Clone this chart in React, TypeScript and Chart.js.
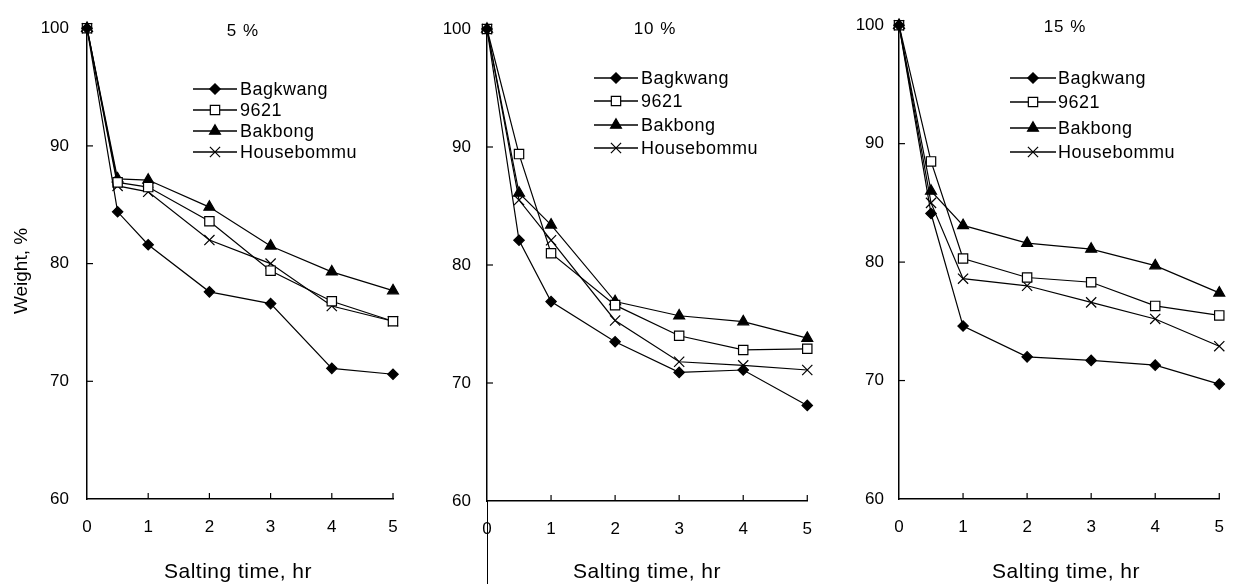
import React, { useEffect, useRef } from 'react';
import { Chart, registerables } from 'chart.js';
import { drawPoint } from 'chart.js/helpers';

Chart.register(...registerables);

// ---------- data ----------
const hours = [0, 0.5, 1, 2, 3, 4, 5];
const seriesNames = ['Bagkwang', '9621', 'Bakbong', 'Housebommu'];
const panelTitles = ['5 %', '10 %', '15 %'];
const yTickValues = [60, 70, 80, 90, 100];
const xTickValues = [0, 1, 2, 3, 4, 5];
const xAxisTitle = 'Salting time, hr';
const yAxisTitle = 'Weight, %';

const bagkwang5 = [100, 84.4, 81.6, 77.6, 76.6, 71.1, 70.6];
const s9621_5 = [100, 86.9, 86.5, 83.6, 79.4, 76.8, 75.1];
const bakbong5 = [100, 87.2, 87.1, 84.8, 81.5, 79.3, 77.7];
const housebommu5 = [100, 86.6, 86.1, 82.0, 80.0, 76.4, 75.1];

const bagkwang10 = [100, 82.1, 76.9, 73.5, 70.9, 71.1, 68.1];
const s9621_10 = [100, 89.4, 81.0, 76.6, 74.0, 72.8, 72.9];
const bakbong10 = [100, 86.1, 83.4, 76.9, 75.7, 75.2, 73.8];
const housebommu10 = [100, 85.5, 82.1, 75.3, 71.8, 71.5, 71.1];

const bagkwang15 = [100, 84.1, 74.6, 72.0, 71.7, 71.3, 69.7];
const s9621_15 = [100, 88.5, 80.3, 78.7, 78.3, 76.3, 75.5];
const bakbong15 = [100, 86.0, 83.1, 81.6, 81.1, 79.7, 77.4];
const housebommu15 = [100, 85.0, 78.6, 78.0, 76.6, 75.2, 72.9];

const panelSeries = [
  [bagkwang5, s9621_5, bakbong5, housebommu5],
  [bagkwang10, s9621_10, bakbong10, housebommu10],
  [bagkwang15, s9621_15, bakbong15, housebommu15],
];

// ---------- styles ----------
const FONT = '"Liberation Sans", Arial, sans-serif';
const H = 584;

const markerStyles = [
  { pointStyle: 'rectRot', radius: 5.2, fill: '#000' },
  { pointStyle: 'rect', radius: 6.6, fill: '#fff' },
  { pointStyle: 'triangle', radius: 6.3, fill: '#000' },
  { pointStyle: 'crossRot', radius: 7.2, fill: '#000' },
];

const panels = [
  {
    left: 0, width: 420, axisLeft: 87, padRight: 27, top: 21, bottom: 499, yPad: 18,
    titleX: 243, titleY: 31, xTitleX: 238, showYTitle: true, extendAxis: false,
    legX1: 193, legX2: 237, legText: 240, legRows: [89, 110, 131, 152],
  },
  {
    left: 420, width: 410, axisLeft: 67, padRight: 21, top: 29, bottom: 501, yPad: 16,
    titleX: 235, titleY: 29, xTitleX: 227, showYTitle: false, extendAxis: true,
    legX1: 174, legX2: 218, legText: 221, legRows: [78, 101, 125, 148],
  },
  {
    left: 830, width: 412, axisLeft: 69, padRight: 14, top: 21, bottom: 499, yPad: 15,
    titleX: 235, titleY: 27, xTitleX: 236, showYTitle: false, extendAxis: false,
    legX1: 180, legX2: 226, legText: 228, legRows: [78, 102, 128, 152],
  },
];

function Panel({ index }: { index: number }) {
  const ref = useRef<HTMLCanvasElement>(null);
  const cfg = panels[index];

  useEffect(() => {
    const series = panelSeries[index];
    const datasets = seriesNames.map((name, i) => ({
      label: name,
      data: hours.map((h, k) => ({ x: h, y: series[i][k] })),
      borderColor: '#000',
      borderWidth: 1.2,
      pointStyle: markerStyles[i].pointStyle as any,
      pointRadius: markerStyles[i].radius,
      pointBackgroundColor: markerStyles[i].fill,
      pointBorderColor: '#000',
      pointBorderWidth: 1.2,
      fill: false,
      tension: 0,
      clip: false as any,
    }));

    const decor = {
      id: 'decor' + index,
      afterDraw(chart: any) {
        const { ctx, chartArea, scales } = chart;
        const xs = scales.x;
        const ys = scales.y;
        ctx.save();
        ctx.strokeStyle = '#000';
        ctx.lineWidth = 1.2;
        // inward tick marks
        [70, 80, 90].forEach((v) => {
          const y = ys.getPixelForValue(v);
          ctx.beginPath();
          ctx.moveTo(chartArea.left, y);
          ctx.lineTo(chartArea.left + 6, y);
          ctx.stroke();
        });
        [1, 2, 3, 4, 5].forEach((v) => {
          const x = xs.getPixelForValue(v);
          ctx.beginPath();
          ctx.moveTo(x, chartArea.bottom);
          ctx.lineTo(x, chartArea.bottom - 6);
          ctx.stroke();
        });
        if (cfg.extendAxis) {
          ctx.lineWidth = 1;
          ctx.beginPath();
          ctx.moveTo(chartArea.left + 0.5, chartArea.bottom);
          ctx.lineTo(chartArea.left + 0.5, H);
          ctx.stroke();
        }
        ctx.fillStyle = '#000';
        // panel title
        ctx.font = `17px ${FONT}`;
        (ctx as any).letterSpacing = '1px';
        ctx.textAlign = 'center';
        ctx.textBaseline = 'middle';
        ctx.fillText(panelTitles[index], cfg.titleX, cfg.titleY);
        // x axis title
        ctx.font = `21px ${FONT}`;
        (ctx as any).letterSpacing = '0.5px';
        ctx.fillText(xAxisTitle, cfg.xTitleX, 572);
        // y axis title
        if (cfg.showYTitle) {
          ctx.save();
          ctx.translate(22, 271);
          ctx.rotate(-Math.PI / 2);
          ctx.font = `19px ${FONT}`;
          (ctx as any).letterSpacing = '0px';
          ctx.fillText(yAxisTitle, 0, 0);
          ctx.restore();
        }
        // legend
        ctx.font = `18px ${FONT}`;
        (ctx as any).letterSpacing = '0.5px';
        ctx.textAlign = 'left';
        seriesNames.forEach((name, i) => {
          const y = cfg.legRows[i];
          ctx.strokeStyle = '#000';
          ctx.lineWidth = 1.6;
          ctx.beginPath();
          ctx.moveTo(cfg.legX1, y);
          ctx.lineTo(cfg.legX2, y);
          ctx.stroke();
          ctx.fillStyle = markerStyles[i].fill;
          ctx.lineWidth = 1.2;
          drawPoint(ctx, {
            pointStyle: markerStyles[i].pointStyle,
            rotation: 0,
            radius: markerStyles[i].radius,
            borderWidth: 1.2,
          } as any, (cfg.legX1 + cfg.legX2) / 2, y);
          ctx.fillStyle = '#000';
          ctx.fillText(name, cfg.legText, y + 1);
        });
        ctx.restore();
      },
    };

    const chart = new Chart(ref.current!, {
      type: 'line',
      data: { datasets: datasets as any },
      options: {
        animation: false,
        responsive: false,
        maintainAspectRatio: false,
        layout: { padding: { top: cfg.top, right: cfg.padRight, left: 0, bottom: 0 } },
        plugins: {
          legend: { display: false },
          tooltip: { enabled: false },
          title: { display: false },
        },
        scales: {
          x: {
            type: 'linear',
            min: 0,
            max: 5,
            afterBuildTicks: (s: any) => {
              s.ticks = xTickValues.map((v) => ({ value: v }));
            },
            afterFit: (s: any) => {
              s.height = H - cfg.bottom;
            },
            grid: { display: false, drawTicks: false },
            border: { display: true, color: '#000', width: 1.5 },
            ticks: {
              color: '#000',
              font: { family: FONT, size: 17 },
              padding: 18,
              maxRotation: 0,
            },
          },
          y: {
            type: 'linear',
            min: 60,
            max: 100,
            afterBuildTicks: (s: any) => {
              s.ticks = yTickValues.map((v) => ({ value: v }));
            },
            afterFit: (s: any) => {
              s.width = cfg.axisLeft;
            },
            grid: { display: false, drawTicks: false },
            border: { display: true, color: '#000', width: 1.5 },
            ticks: {
              color: '#000',
              font: { family: FONT, size: 17 },
              padding: cfg.yPad,
            },
          },
        },
      },
      plugins: [decor],
    });
    return () => chart.destroy();
  }, [index]);

  return (
    <canvas
      ref={ref}
      width={cfg.width}
      height={H}
      style={{ position: 'absolute', left: cfg.left, top: 0, width: cfg.width, height: H }}
    />
  );
}

export default function App() {
  return (
    <div
      style={{
        position: 'fixed',
        left: 0,
        top: 0,
        width: 1242,
        height: H,
        background: '#fff',
        overflow: 'hidden',
      }}
    >
      <Panel index={0} />
      <Panel index={1} />
      <Panel index={2} />
    </div>
  );
}
